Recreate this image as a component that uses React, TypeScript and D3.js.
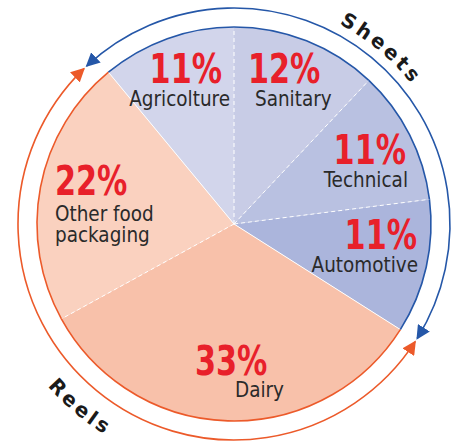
import * as d3 from 'd3';
import React, { useRef, useEffect } from 'react';

// slice data, clockwise from 12 o'clock
const categories = ['Sanitary', 'Technical', 'Automotive', 'Dairy', 'Other food packaging', 'Agricolture'];
const shares = [12, 11, 11, 33, 22, 11];
const groups = ['Sheets', 'Sheets', 'Sheets', 'Reels', 'Reels', 'Sheets'];
const nameLines = [['Sanitary'], ['Technical'], ['Automotive'], ['Dairy'], ['Other food', 'packaging'], ['Agricolture']];

const sliceColors = ['#c8cce6', '#b9c1e1', '#abb5dc', '#f8c1aa', '#fad1bf', '#d2d5eb'];
const groupColors: Record<string, string> = { Sheets: '#2557a8', Reels: '#ec5a2a' };

// label placement (offsets from the pie centre): [pctX, pctY, pctAnchor, nameX, nameY, nameAnchor]
const labelLayout: [number, number, string, number, number, string][] = [
  [14, -141, 'start', 21, -118, 'start'],
  [172, -60, 'end', 174, -37, 'end'],
  [183, 25, 'end', 184, 48, 'end'],
  [-39, 151, 'start', 1, 173, 'start'],
  [-179, -29, 'start', -179, -3, 'start'],
  [-12, -141, 'end', -4, -118, 'end'],
];

// outer arrows (degrees clockwise from north)
const arrows = [
  { group: 'Sheets', from: 317, to: 482 },
  { group: 'Reels', from: 123, to: 316 },
];

const App = () => {
  const svgRef = useRef<SVGSVGElement>(null);
  const width = 461, height = 441;

  useEffect(() => {
    if (!svgRef.current) return;
    const svg = d3.select(svgRef.current);
    svg.selectAll('*').remove();

    const cx = 234, cy = 224, r = 197, R = 216;
    const rad = (deg: number) => (deg * Math.PI) / 180;
    const defs = svg.append('defs');
    const g = svg.append('g').attr('transform', `translate(${cx},${cy})`);

    const data = categories.map((c, i) => ({ name: c, value: shares[i], group: groups[i], i }));
    const pie = d3.pie<any>().sort(null).value(d => d.value);
    const arcs = pie(data);
    const arc = d3.arc<any>().innerRadius(0).outerRadius(r);

    // slices
    g.selectAll('path.slice')
      .data(arcs)
      .enter()
      .append('path')
      .attr('class', 'slice')
      .attr('d', arc)
      .attr('fill', d => sliceColors[d.data.i]);

    // separators: dashed inside a group, solid between groups
    arcs.forEach((a, i) => {
      const prev = arcs[(i + arcs.length - 1) % arcs.length];
      const same = prev.data.group === a.data.group;
      g.append('line')
        .attr('x1', 0).attr('y1', 0)
        .attr('x2', r * Math.sin(a.startAngle))
        .attr('y2', -r * Math.cos(a.startAngle))
        .attr('stroke', '#fff')
        .attr('stroke-width', 1)
        .attr('stroke-dasharray', same ? '4,3' : null);
    });

    // rim coloured by group
    arcs.forEach(a => {
      const p = d3.path();
      p.arc(0, 0, r, a.startAngle - Math.PI / 2, a.endAngle - Math.PI / 2);
      g.append('path')
        .attr('d', p.toString())
        .attr('fill', 'none')
        .attr('stroke', groupColors[a.data.group])
        .attr('stroke-width', 1.6);
    });

    // arrow markers
    Object.entries(groupColors).forEach(([k, col]) => {
      defs.append('marker')
        .attr('id', 'arr-' + k)
        .attr('viewBox', '0 0 10 10')
        .attr('refX', 9).attr('refY', 5)
        .attr('markerWidth', 14).attr('markerHeight', 14)
        .attr('markerUnits', 'userSpaceOnUse')
        .attr('orient', 'auto-start-reverse')
        .append('path')
        .attr('d', 'M0,0 L10,5 L0,10 Z')
        .attr('fill', col);
    });

    arrows.forEach(a => {
      const p = d3.path();
      const a0 = rad(a.from - 90), a1 = rad(a.to - 90);
      p.moveTo(R * Math.cos(a0), R * Math.sin(a0));
      p.arc(0, 0, R, a0, a1);
      g.append('path')
        .attr('d', p.toString())
        .attr('fill', 'none')
        .attr('stroke', groupColors[a.group])
        .attr('stroke-width', 1.6)
        .attr('marker-start', `url(#arr-${a.group})`)
        .attr('marker-end', `url(#arr-${a.group})`);
    });

    // curved group titles
    const sheetsPath = d3.path();
    const ss = rad(8 - 90);
    sheetsPath.moveTo(226 * Math.cos(ss), 226 * Math.sin(ss));
    sheetsPath.arc(0, 0, 226, ss, rad(72 - 90));
    defs.append('path').attr('id', 'sheets-path').attr('d', sheetsPath.toString());
    const reelsPath = d3.path();
    const rs = rad(250 - 90);
    reelsPath.moveTo(247 * Math.cos(rs), 247 * Math.sin(rs));
    reelsPath.arc(0, 0, 247, rs, rad(190 - 90), true);
    defs.append('path').attr('id', 'reels-path').attr('d', reelsPath.toString());

    const titleFont = "'DejaVu Sans', sans-serif";
    [['sheets-path', 'Sheets'], ['reels-path', 'Reels']].forEach(([id, label]) => {
      g.append('text')
        .attr('font-family', titleFont).attr('font-weight', 'bold').attr('font-size', 20)
        .attr('letter-spacing', 3.2).attr('fill', '#1a1a1a')
        .append('textPath')
        .attr('href', '#' + id)
        .attr('startOffset', '50%').attr('text-anchor', 'middle')
        .text(label);
    });

    // slice labels
    const font = "'DejaVu Sans Condensed', 'DejaVu Sans', sans-serif";
    arcs.forEach(a => {
      const [px, py, pa, nx, ny, na] = labelLayout[a.data.i];
      g.append('text')
        .attr('transform', `translate(${px},${py}) scale(0.82,1)`)
        .attr('text-anchor', pa)
        .attr('font-family', font).attr('font-weight', 'bold').attr('font-size', 41)
        .attr('fill', '#e8202a')
        .text(a.data.value + '%');
      const t = g.append('text')
        .attr('transform', `translate(${nx},${ny}) scale(0.93,1)`)
        .attr('text-anchor', na)
        .attr('font-family', font).attr('font-size', 22)
        .attr('fill', '#2a2a2a');
      nameLines[a.data.i].forEach((line, j) => {
        t.append('tspan').attr('x', 0).attr('y', j * 21).text(line);
      });
    });
  }, []);

  return (
    <div>
      <svg ref={svgRef} width={width} height={height} style={{ position: 'absolute', left: 0, top: 0 }} />
    </div>
  );
};

export default App;
